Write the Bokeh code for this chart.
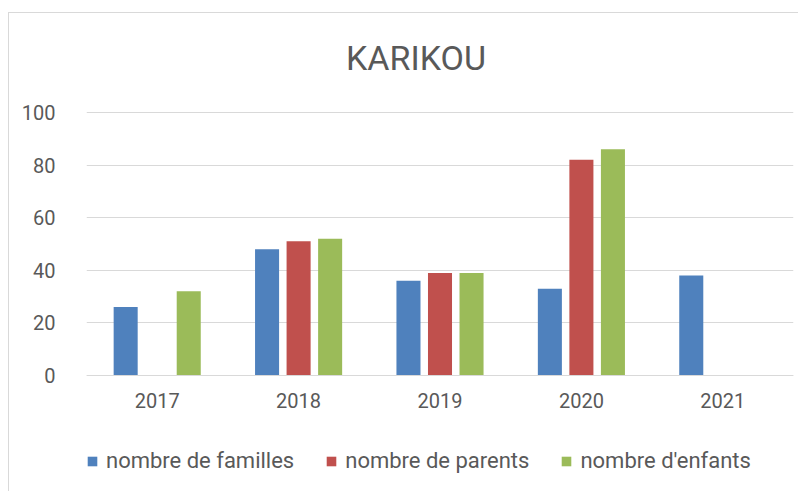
from bokeh.plotting import figure
from bokeh.models import FactorRange, Range1d, Legend, LegendItem, ColumnDataSource, Label
from bokeh.transform import dodge
from bokeh.embed import file_html
from bokeh.resources import INLINE

years = ["2017", "2018", "2019", "2020", "2021"]
familles = [26, 48, 36, 33, 38]
parents = [float("nan"), 51, 39, 82, float("nan")]
enfants = [32, 52, 39, 86, float("nan")]
series_names = ["nombre de familles", "nombre de parents", "nombre d'enfants"]
colors = ["#4F81BD", "#C0504D", "#9BBB59"]
y_ticks = [0, 20, 40, 60, 80, 100]

src = ColumnDataSource(dict(year=years, familles=familles, parents=parents, enfants=enfants))

FONT = "Roboto"
TXT = "#595959"
GRID = "#D9D9D9"

# frame extended above/below the 0-100 value band to host the title and legend
p = figure(x_range=FactorRange(*years), y_range=Range1d(-38.0, 137.6),
           frame_width=707, frame_height=462,
           min_border_left=77, min_border_right=5, min_border_top=0, min_border_bottom=20,
           output_backend="svg", toolbar_location=None, title=None)
p.styles = {"margin-left": "8px", "margin-top": "12px",
            "border-left": "1px solid #D9D9D9", "border-top": "1px solid #D9D9D9"}

offsets = [-0.223, 0.0, 0.223]
fields = ["familles", "parents", "enfants"]
renderers = []
for f, off, c in zip(fields, offsets, colors):
    r = p.vbar(x=dodge("year", off, range=p.x_range), top=f, width=0.17, source=src,
               fill_color=c, line_color=None)
    renderers.append(r)

title = Label(x=2.5, y=120.5, text="KARIKOU", text_font=FONT, text_font_size="34px",
              text_color=TXT, text_align="center", text_baseline="middle", x_offset=-24)
p.add_layout(title)

legend = Legend(items=[LegendItem(label=n, renderers=[r]) for n, r in zip(series_names, renderers)],
                orientation="horizontal", location=(0, 2),
                label_text_font=FONT, label_text_font_size="22px", label_text_color=TXT,
                glyph_width=12, glyph_height=12, label_standoff=8, spacing=31,
                border_line_color=None, background_fill_alpha=0, margin=0, padding=0)
p.add_layout(legend, "center")

p.outline_line_color = None
p.xgrid.grid_line_color = None
p.ygrid.grid_line_color = GRID
p.ygrid.grid_line_width = 1
p.yaxis.ticker = y_ticks
p.ygrid.ticker = y_ticks
p.yaxis.axis_line_color = None
p.yaxis.major_tick_line_color = None
p.yaxis.minor_tick_line_color = None
p.yaxis.major_label_standoff = 25
p.xaxis.fixed_location = 0
p.xaxis.axis_line_color = GRID
p.xaxis.major_tick_line_color = None
p.xaxis.minor_tick_line_color = None
p.xaxis.major_label_standoff = 11
for ax in (p.xaxis, p.yaxis):
    ax.major_label_text_font = FONT
    ax.major_label_text_font_size = "20px"
    ax.major_label_text_color = TXT

open("out.html", "w").write(file_html(p, INLINE))
